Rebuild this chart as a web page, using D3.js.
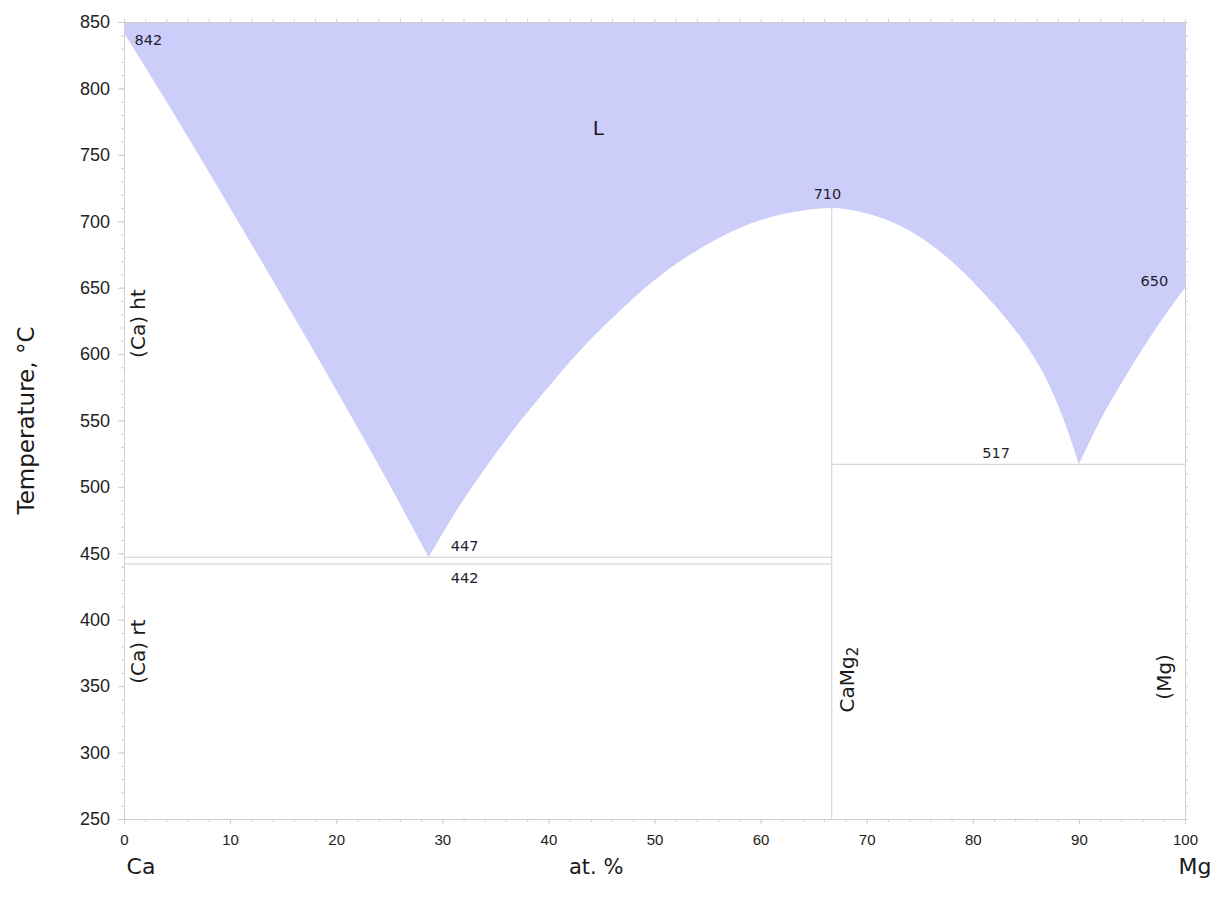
<!DOCTYPE html>
<html>
<head>
<meta charset="utf-8">
<script src="https://cdn.jsdelivr.net/npm/d3@7"></script>
<style>
  html, body { margin: 0; padding: 0; background: #fff; }
  svg { display: block; font-family: "DejaVu Sans", Verdana, sans-serif; }
  .axis path, .axis line { stroke: #cfcfcf; }
  .axis text { fill: #222; }
</style>
</head>
<body>
<svg id="chart" width="1224" height="905"></svg>
<script>
// Ca–Mg phase diagram: liquidus branches (at.% Mg, °C)
const liquidusCa = [[0, 842], [5, 777], [10, 710], [15, 642], [20, 573], [25, 502], [28.7, 447]];
const liquidusCaMg2 = [[28.7, 447], [31, 478], [34.2, 516], [37.3, 549], [40.5, 580], [43.6, 608],
  [46.8, 633], [49.9, 655], [53, 673], [56.2, 688], [59.3, 699], [62.5, 706], [66.7, 710],
  [69.5, 707], [72.5, 699], [75.6, 685], [78.8, 664], [81, 646], [83, 628], [85, 607],
  [87, 580], [88.5, 552], [90, 517]];
const liquidusMg = [[90, 517], [92, 550], [94, 578], [96, 604], [98, 628], [100, 650]];

// invariant lines: [x1, x2, T]
const horizontals = [[0, 66.7, 447], [0, 66.7, 442], [66.7, 100, 517]];
// compound line: [x, T1, T2]
const verticals = [[66.7, 250, 710]];

// point labels: [text, x, T]
const pointLabels = [["842", 1, 833], ["447", 30.8, 452], ["442", 30.8, 428],
  ["710", 65, 717], ["517", 80.9, 522], ["650", 95.8, 651]];
// phase labels: [text, x, T, rotated]
const phaseLabels = [["L", 44.7, 770, false], ["(Ca) ht", 1.3, 623, true], ["(Ca) rt", 1.3, 376, true],
  ["(Mg)", 98, 357, true]];

const xTicks = [0, 10, 20, 30, 40, 50, 60, 70, 80, 90, 100];
const yTicks = [250, 300, 350, 400, 450, 500, 550, 600, 650, 700, 750, 800, 850];

const svg = d3.select("#chart");
const x = d3.scaleLinear().domain([0, 100]).range([124, 1185]);
const y = d3.scaleLinear().domain([250, 850]).range([819, 22]);

// liquid region: the three liquidus branches joined, closed along the top
const branch = d3.line().x(d => x(d[0])).y(d => y(d[1])).curve(d3.curveMonotoneX);
const parts = [liquidusCa, liquidusCaMg2, liquidusMg].map((b, i) => {
  const s = branch(b);
  return i === 0 ? s : "L" + s.slice(1);
});
const liquidPath = parts.join("") + `L${x(100)},${y(850)}L${x(0)},${y(850)}Z`;
svg.append("path").attr("d", liquidPath).attr("fill", "#cdcdfa");

// invariant and compound lines
svg.selectAll(".hline").data(horizontals).join("line")
  .attr("x1", d => x(d[0])).attr("x2", d => x(d[1]))
  .attr("y1", d => y(d[2])).attr("y2", d => y(d[2]))
  .attr("stroke", "#d8d8d8").attr("stroke-width", 1.2);
svg.selectAll(".vline").data(verticals).join("line")
  .attr("x1", d => x(d[0])).attr("x2", d => x(d[0]))
  .attr("y1", d => y(d[1])).attr("y2", d => y(d[2]))
  .attr("stroke", "#d8d8d8").attr("stroke-width", 1.2);

// axes and frame with minor ticks
const yMinor = d3.range(250, 851, 10);
const xMinor = d3.range(0, 101, 2);
function frame(axisFn, scale, minor, size, transform) {
  const g = svg.append("g").attr("class", "axis").attr("transform", transform);
  g.call(axisFn(scale).tickValues(minor).tickSize(size).tickFormat(""));
  return g;
}
frame(d3.axisLeft, y, yMinor, 3, `translate(${x(0)},0)`);
frame(d3.axisRight, y, yMinor, 3, `translate(${x(100)},0)`);
frame(d3.axisBottom, x, xMinor, 3, `translate(0,${y(250)})`);
frame(d3.axisTop, x, xMinor, 3, `translate(0,${y(850)})`);

const yAxis = svg.append("g").attr("class", "axis")
  .attr("transform", `translate(${x(0)},0)`)
  .call(d3.axisLeft(y).tickValues(yTicks).tickSize(6).tickPadding(8));
yAxis.select(".domain").remove();
yAxis.selectAll("text").attr("font-size", 18).attr("dy", "0.32em");

const xAxis = svg.append("g").attr("class", "axis")
  .attr("transform", `translate(0,${y(250)})`)
  .call(d3.axisBottom(x).tickValues(xTicks).tickSize(5).tickPadding(10));
xAxis.select(".domain").remove();
xAxis.selectAll("text").attr("font-size", 15);

// point labels
svg.selectAll(".pt").data(pointLabels).join("text")
  .attr("x", d => x(d[1])).attr("y", d => y(d[2]))
  .attr("font-size", 14.5).attr("fill", "#1e1e2e")
  .text(d => d[0]);

// phase labels
svg.selectAll(".ph").data(phaseLabels).join("text")
  .attr("transform", d => `translate(${x(d[1])},${y(d[2])})` + (d[3] ? " rotate(-90)" : ""))
  .attr("text-anchor", "middle").attr("dy", "0.35em")
  .attr("font-size", 20).attr("fill", "#1a1a1a")
  .text(d => d[0]);

// compound label with subscript
const cm = svg.append("text")
  .attr("transform", `translate(${x(68.1)},${y(355)}) rotate(-90)`)
  .attr("text-anchor", "middle").attr("dy", "0.35em")
  .attr("font-size", 20).attr("fill", "#1a1a1a");
cm.append("tspan").text("CaMg");
cm.append("tspan").attr("font-size", 15).attr("dy", "0.3em").text("2");

// axis titles and end members
svg.append("text")
  .attr("transform", `translate(26,${y(550)}) rotate(-90)`)
  .attr("text-anchor", "middle").attr("dy", "0.35em")
  .attr("font-size", 23).attr("fill", "#1a1a1a")
  .text("Temperature, °C");
svg.append("text").attr("x", x(44.5)).attr("y", 874)
  .attr("text-anchor", "middle").attr("font-size", 21).attr("fill", "#1a1a1a").text("at. %");
svg.append("text").attr("x", x(0) + 17).attr("y", 874)
  .attr("text-anchor", "middle").attr("font-size", 22).attr("fill", "#1a1a1a").text("Ca");
svg.append("text").attr("x", x(100) + 10).attr("y", 874)
  .attr("text-anchor", "middle").attr("font-size", 22).attr("fill", "#1a1a1a").text("Mg");
</script>
</body>
</html>
